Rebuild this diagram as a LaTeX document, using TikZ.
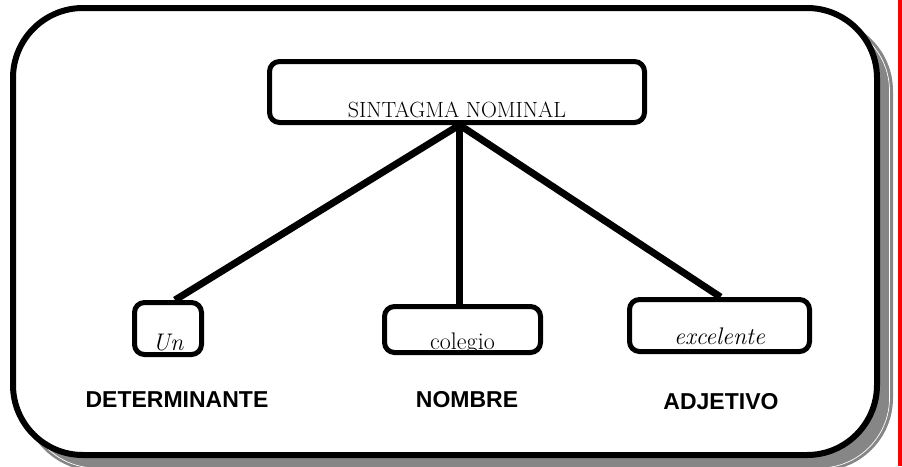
\documentclass[tikz,border=0pt]{standalone}
\usepackage{fontspec}
\newfontfamily\labelfont{Liberation Sans}

\begin{document}
\begin{tikzpicture}[x=1pt,y=-1pt]
\tikzset{BoxStyle/.style =
	{draw,
		rounded corners = 10pt,
		line width = 5pt,
		inner sep = 0pt,
		anchor = north west,
		font = \fontsize{22}{26}\selectfont},
	WordStyle/.style = {font = \fontsize{24}{28}\selectfont},
	ItalicStyle/.style = {font = \itshape\fontsize{24}{28}\selectfont},
	LabelStyle/.style =
	{anchor = base,
		font = \labelfont\bfseries\fontsize{23}{27}\selectfont},
	EdgeStyle/.style = {line width = 7pt}}
\useasboundingbox (0,0) rectangle (902,466);
% frame with its shadow
\fill[gray!95, rounded corners = 73pt] (23,18) rectangle (893,471);
\draw[white, line width = 0.7pt, rounded corners = 70pt] (26,21) rectangle (889.5,468);
\draw[line width = 6pt, fill = white, rounded corners = 70pt] (13,8) rectangle (877,455);
\fill[red] (898,0) rectangle (902,466);
% boxes
\node[BoxStyle, text height = 56pt, text depth = 5pt, minimum width = 375pt] (sn) at (267,59) {SINTAGMA NOMINAL};
\node[BoxStyle, ItalicStyle, text height = 48pt, text depth = 4pt, minimum width = 67pt] (det) at (132,300) {Un};
\node[BoxStyle, WordStyle, text height = 43pt, text depth = 3pt, minimum width = 156pt] (nom) at (382,304) {colegio};
\node[BoxStyle, ItalicStyle, text height = 45pt, text depth = 7pt, minimum width = 180pt] (adj) at (627,297) {excelente};
% branches
\draw[EdgeStyle] ([xshift = 2.5pt]sn.south) -- ([xshift = 7pt]det.north);
\draw[EdgeStyle] ([xshift = 2.5pt]sn.south) -- ([xshift = -3pt]nom.north);
\draw[EdgeStyle] ([xshift = 2.5pt]sn.south) -- ([xshift = 1pt]adj.north);
% word classes
\node[LabelStyle] (determinante) at (177,407) {DETERMINANTE};
\node[LabelStyle] (nombre) at (467,407) {NOMBRE};
\node[LabelStyle] (adjetivo) at (721,409) {ADJETIVO};
\end{tikzpicture}
\end{document}
